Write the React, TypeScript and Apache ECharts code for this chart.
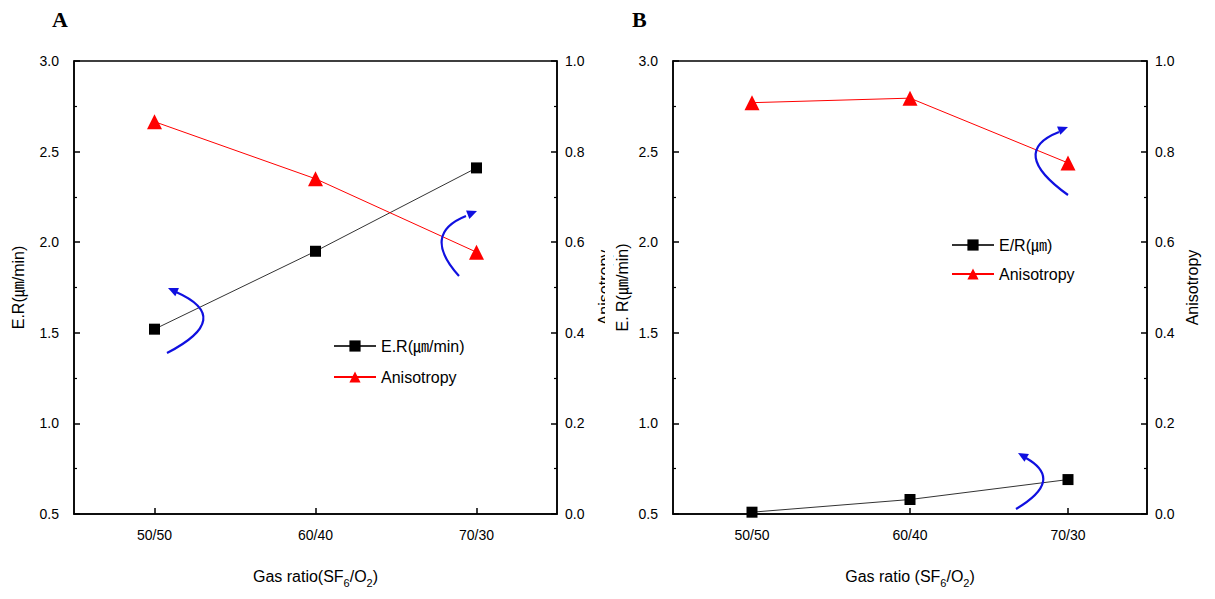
import React, { useEffect, useRef } from "react";
import * as echarts from "echarts";

const categories = ["50/50", "60/40", "70/30"];
const erA = [1.52, 1.95, 2.41];
const anisoA = [0.866, 0.74, 0.578];
const erB = [0.51, 0.58, 0.69];
const anisoB = [0.908, 0.918, 0.775];

const FONT = "'Liberation Sans', Arial, 'Noto Sans CJK KR', sans-serif";
const BLUE = "#1010e0";

function arrow(p0: number[], cp: number[], p2: number[], tip: number[]) {
  const dx = p2[0] - cp[0];
  const dy = p2[1] - cp[1];
  const len = Math.sqrt(dx * dx + dy * dy);
  const ux = dx / len;
  const uy = dy / len;
  const hl = 10;
  const hw = 4.5;
  const bx = tip[0] - ux * hl;
  const by = tip[1] - uy * hl;
  const px = -uy * hw;
  const py = ux * hw;
  return [
    {
      type: "bezierCurve",
      shape: { x1: p0[0], y1: p0[1], cpx1: cp[0], cpy1: cp[1], x2: p2[0], y2: p2[1] },
      style: { stroke: BLUE, lineWidth: 2.2, fill: null },
      z: 100,
    },
    {
      type: "polygon",
      shape: { points: [tip, [bx + px, by + py], [bx - px, by - py]] },
      style: { fill: BLUE },
      z: 100,
    },
  ];
}

const gasTail = "{sub|6}{n|/O}{sub|2}{n|)}";

export default function App() {
  const ref = useRef<HTMLDivElement>(null);
  useEffect(() => {
    if (!ref.current) return;
    const chart = echarts.init(ref.current, undefined, { renderer: "svg" });
    const axisLine = { show: true, lineStyle: { color: "#000", width: 1.5 } };
    const yCommon = (min: number, max: number, interval: number, name: string, gap: number, pos: string, idx: number) => ({
      type: "value",
      gridIndex: idx,
      position: pos,
      min,
      max,
      interval,
      name,
      nameLocation: "middle",
      nameGap: gap,
      nameRotate: 90,
      nameTextStyle: { fontFamily: FONT, fontSize: 16, color: "#000" },
      axisLine,
      axisTick: { show: true, inside: true, length: 6, lineStyle: { color: "#000", width: 1.5 } },
      minorTick: { show: true, splitNumber: 2, length: 3, lineStyle: { color: "#000", width: 1.2 } },
      splitLine: { show: false },
      axisLabel: {
        fontFamily: FONT,
        fontSize: 14,
        color: "#000",
        margin: pos === "left" ? 15 : 8,
        formatter: (v: number) => v.toFixed(1),
      },
    });
    const xCommon = (idx: number, nm: string) => ({
      type: "category",
      gridIndex: idx,
      data: categories,
      boundaryGap: true,
      name: nm,
      nameLocation: "middle",
      nameGap: 50,
      nameTextStyle: {
        fontFamily: FONT,
        fontSize: 16,
        color: "#000",
        rich: {
          sub: { fontFamily: FONT, fontSize: 11, color: "#000", padding: [14, 0, 0, 0] },
          n: { fontFamily: FONT, fontSize: 16, color: "#000" },
        },
      },
      axisLine,
      axisTick: { show: true, inside: true, alignWithLabel: true, length: 6, lineStyle: { color: "#000", width: 1.5 } },
      axisLabel: { fontFamily: FONT, fontSize: 14, color: "#000", margin: 14 },
      splitLine: { show: false },
    });
    const option: any = {
      animation: false,
      backgroundColor: "#fff",
      grid: [
        { left: 74, top: 61, width: 483, height: 453, show: true, borderColor: "#000", borderWidth: 1.5 },
        { left: 673, top: 61, width: 474, height: 453, show: true, borderColor: "#000", borderWidth: 1.5 },
      ],
      xAxis: [xCommon(0, "Gas ratio(SF" + gasTail), xCommon(1, "Gas ratio (SF" + gasTail)],
      yAxis: [
        yCommon(0.5, 3.0, 0.5, "E.R(㎛/min)", 48, "left", 0),
        yCommon(0, 1.0, 0.2, "Anisotropy", 39, "right", 0),
        yCommon(0.5, 3.0, 0.5, "E. R(㎛/min)", 43, "left", 1),
        yCommon(0, 1.0, 0.2, "Anisotropy", 37, "right", 1),
      ],
      legend: [
        {
          data: ["E.R(㎛/min)", "Anisotropy"],
          orient: "vertical",
          left: 328,
          top: 333,
          itemWidth: 42,
          itemHeight: 14,
          itemGap: 15,
          selectedMode: false,
          textStyle: { fontFamily: FONT, fontSize: 16, color: "#000" },
        },
        {
          data: ["E/R(㎛)", "Anisotropy "],
          orient: "vertical",
          left: 946,
          top: 232,
          itemWidth: 42,
          itemHeight: 14,
          itemGap: 13,
          selectedMode: false,
          textStyle: { fontFamily: FONT, fontSize: 16, color: "#000" },
        },
      ],
      series: [
        {
          type: "line",
          name: "E.R(㎛/min)",
          xAxisIndex: 0,
          yAxisIndex: 0,
          data: erA,
          symbol: "rect",
          symbolSize: 11,
          lineStyle: { color: "#333", width: 1 },
          itemStyle: { color: "#000" },
        },
        {
          type: "line",
          name: "Anisotropy",
          xAxisIndex: 0,
          yAxisIndex: 1,
          data: anisoA,
          symbol: "triangle",
          symbolSize: 15,
          lineStyle: { color: "#f00", width: 1 },
          itemStyle: { color: "#f00" },
        },
        {
          type: "line",
          name: "E/R(㎛)",
          xAxisIndex: 1,
          yAxisIndex: 2,
          data: erB,
          symbol: "rect",
          symbolSize: 11,
          lineStyle: { color: "#333", width: 1 },
          itemStyle: { color: "#000" },
        },
        {
          type: "line",
          name: "Anisotropy ",
          xAxisIndex: 1,
          yAxisIndex: 3,
          data: anisoB,
          symbol: "triangle",
          symbolSize: 15,
          lineStyle: { color: "#f00", width: 1 },
          itemStyle: { color: "#f00" },
        },
      ],
      graphic: [
        {
          type: "text",
          left: 52,
          top: 8,
          style: { text: "A", font: "bold 22px 'Liberation Serif', 'Times New Roman', serif", fill: "#000" },
        },
        {
          type: "text",
          left: 632,
          top: 8,
          style: { text: "B", font: "bold 22px 'Liberation Serif', 'Times New Roman', serif", fill: "#000" },
        },
        {
          type: "rect",
          shape: { x: 605, y: 230, width: 8, height: 150 },
          style: { fill: "#fff" },
          z: 50,
        },
        ...arrow([167, 353], [235, 318], [176, 292], [168, 288]),
        ...arrow([459, 276], [421, 234], [466, 216], [477, 211]),
        ...arrow([1068, 195], [1008, 152], [1059, 132], [1068, 127]),
        ...arrow([1016, 509], [1065, 480], [1026, 458], [1018, 453]),
      ],
    };
    chart.setOption(option);
    return () => chart.dispose();
  }, []);
  return (
    <div
      ref={ref}
      style={{ position: "fixed", left: 0, top: 0, width: 1215, height: 599, background: "#fff" }}
    />
  );
}
